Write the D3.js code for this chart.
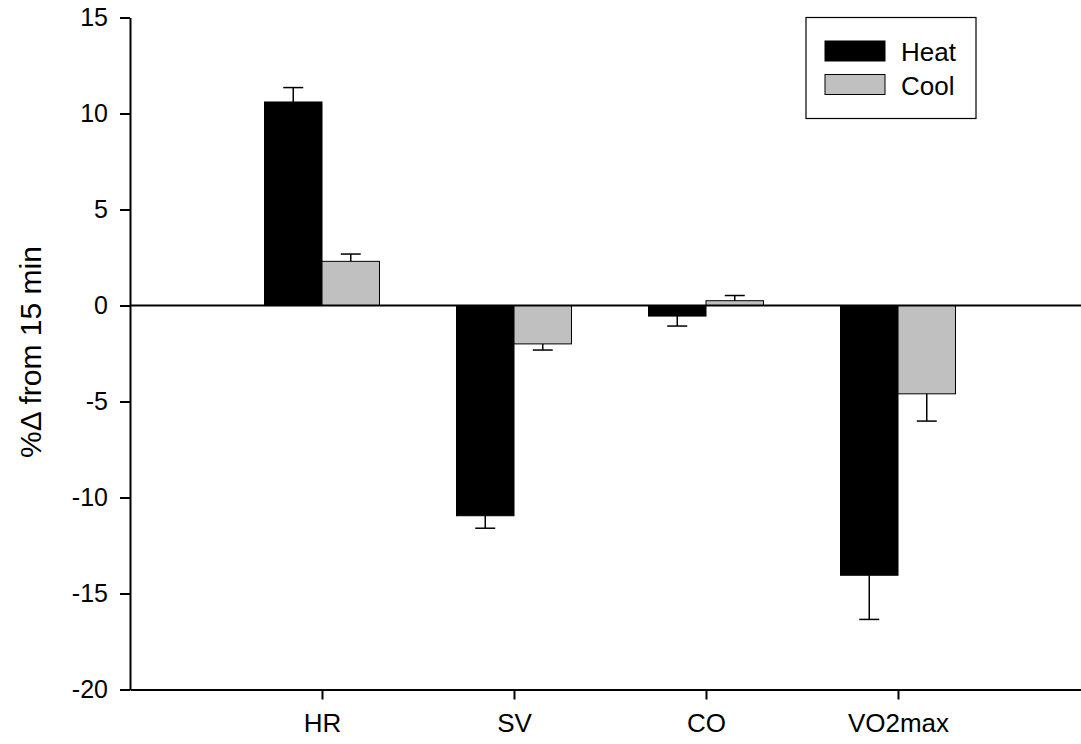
<!DOCTYPE html>
<html>
<head>
<meta charset="utf-8">
<script src="https://cdn.jsdelivr.net/npm/d3@7"></script>
<style>
  body { margin: 0; background: #fff; }
  text { font-family: "Liberation Sans", Arial, sans-serif; fill: #000; }
</style>
</head>
<body>
<svg class="svg-canvas" width="1081" height="744"></svg>
<script>
var categories = ["HR", "SV", "CO", "VO2max"];
var seriesNames = ["Heat", "Cool"];
var heatValues = [10.6, -10.95, -0.55, -14.05];
var heatErrors = [0.75, 0.65, 0.52, 2.3];
var coolValues = [2.3, -2.0, 0.25, -4.6];
var coolErrors = [0.38, 0.32, 0.27, 1.42];
var seriesColors = ["#000000", "#c0c0c0"];
var yTicks = [-20, -15, -10, -5, 0, 5, 10, 15];

var svg = d3.select(".svg-canvas");
var plotLeft = 130, plotRight = 1090, plotTop = 17.5, plotBottom = 689.5;

var x = d3.scalePoint().domain(categories).range([plotLeft, plotRight]).padding(1);
var y = d3.scaleLinear().domain([-20, 15]).range([plotBottom, plotTop]);
var barW = 57.5;

var rows = [];
categories.forEach(function(c, i) {
  rows.push({ cat: c, s: 0, v: heatValues[i], e: heatErrors[i] });
  rows.push({ cat: c, s: 1, v: coolValues[i], e: coolErrors[i] });
});
function barX(d) { return x(d.cat) + (d.s === 0 ? -barW : 0); }
function errEnd(d) { return y(d.v + (d.v >= 0 ? d.e : -d.e)); }

// bars
svg.selectAll("rect.bar")
  .data(rows).enter()
  .append("rect")
  .attr("class", "bar")
  .attr("x", barX)
  .attr("width", barW)
  .attr("y", function(d) { return y(Math.max(0, d.v)); })
  .attr("height", function(d) { return Math.abs(y(d.v) - y(0)); })
  .attr("fill", function(d) { return seriesColors[d.s]; })
  .attr("stroke", "#000")
  .attr("stroke-width", 1);

// error bars, drawn away from zero
var errs = svg.append("g").attr("stroke", "#000").attr("stroke-width", 1.5);
errs.selectAll("line.stem")
  .data(rows).enter()
  .append("line")
  .attr("x1", function(d) { return barX(d) + barW / 2; })
  .attr("x2", function(d) { return barX(d) + barW / 2; })
  .attr("y1", function(d) { return y(d.v); })
  .attr("y2", errEnd);
errs.selectAll("line.cap")
  .data(rows).enter()
  .append("line")
  .attr("x1", function(d) { return barX(d) + barW / 2 - 10; })
  .attr("x2", function(d) { return barX(d) + barW / 2 + 10; })
  .attr("y1", errEnd)
  .attr("y2", errEnd);

// zero line
svg.append("line")
  .attr("x1", plotLeft).attr("x2", plotRight)
  .attr("y1", y(0)).attr("y2", y(0))
  .attr("stroke", "#000").attr("stroke-width", 2);

// axes (plain hyphen for negatives, as in the original)
var yAxis = svg.append("g")
  .attr("transform", "translate(" + plotLeft + ",0)")
  .call(d3.axisLeft(y).tickValues(yTicks).tickFormat(function(d) { return String(d); })
    .tickSize(10).tickPadding(12).tickSizeOuter(0));
var xAxis = svg.append("g")
  .attr("transform", "translate(0," + plotBottom + ")")
  .call(d3.axisBottom(x).tickSize(10).tickPadding(14).tickSizeOuter(0));

[yAxis, xAxis].forEach(function(a) {
  a.select(".domain").attr("stroke", "#000").attr("stroke-width", 2);
  a.selectAll(".tick line").attr("stroke", "#000").attr("stroke-width", 2);
  a.selectAll(".tick text").attr("fill", "#000")
    .style("font-family", "'Liberation Sans', Arial, sans-serif");
});
yAxis.selectAll(".tick text").attr("font-size", 25);
xAxis.selectAll(".tick text").attr("font-size", 26);

// y axis title
svg.append("text")
  .attr("transform", "translate(41,352) rotate(-90)")
  .attr("text-anchor", "middle")
  .attr("font-size", 30)
  .text("%\u0394 from 15 min");

// legend
var legend = svg.append("g");
legend.append("rect")
  .attr("x", 806).attr("y", 17.5).attr("width", 170).attr("height", 101)
  .attr("fill", "#fff").attr("stroke", "#000").attr("stroke-width", 1.2);
var items = legend.selectAll("g.item")
  .data(seriesNames).enter()
  .append("g")
  .attr("transform", function(d, i) { return "translate(825," + (41 + i * 33.5) + ")"; });
items.append("rect")
  .attr("width", 60).attr("height", 20)
  .attr("fill", function(d, i) { return seriesColors[i]; })
  .attr("stroke", "#000").attr("stroke-width", 1);
items.append("text")
  .attr("x", 76).attr("y", 20)
  .attr("font-size", 26)
  .text(function(d) { return d; });
</script>
</body>
</html>
